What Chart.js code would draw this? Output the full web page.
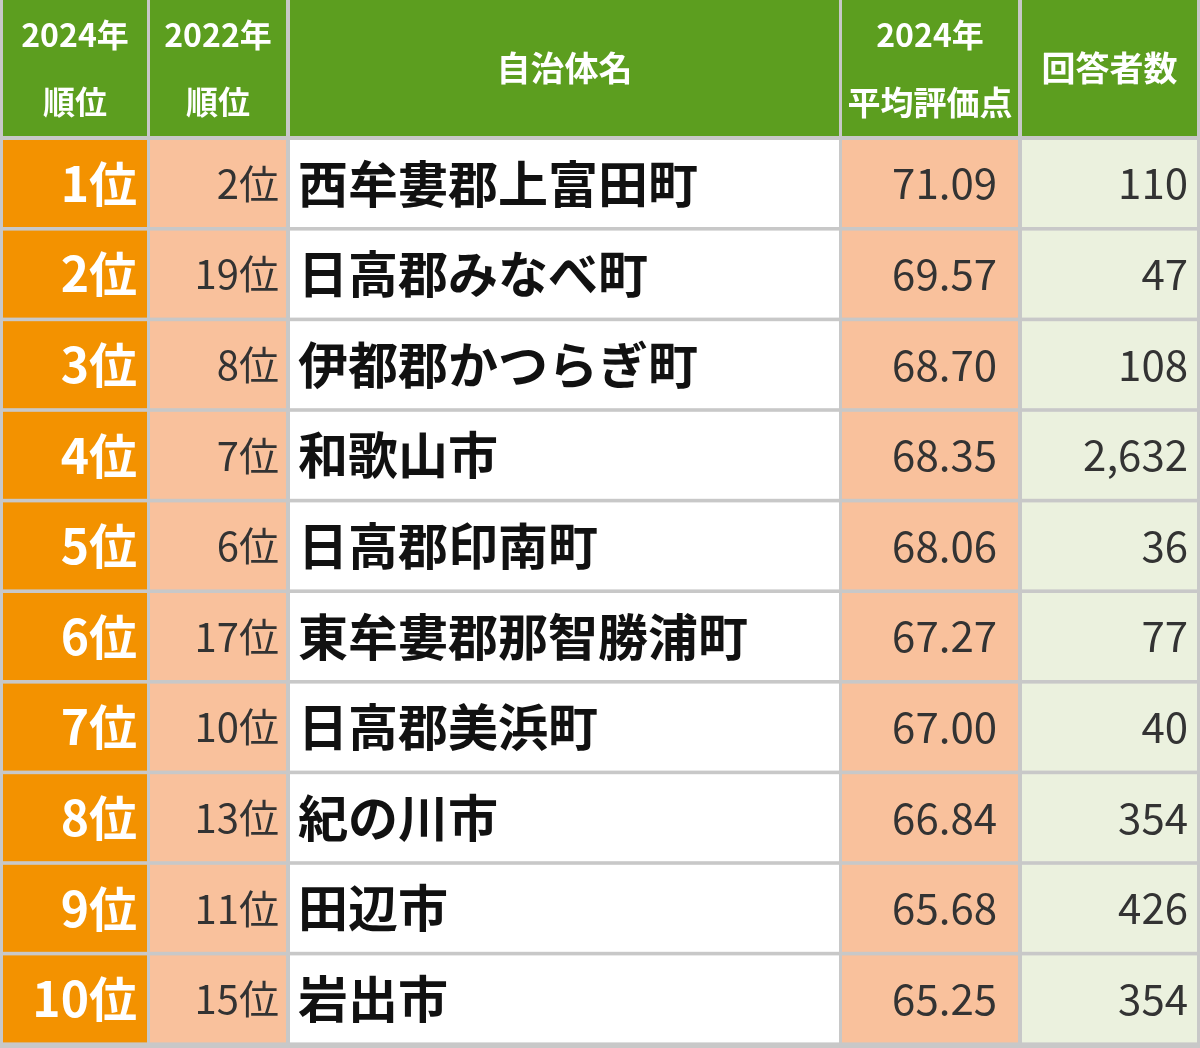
<!DOCTYPE html>
<html><head><meta charset="utf-8">
<script src="https://cdn.jsdelivr.net/npm/chart.js@4"></script>
<style>html,body{margin:0;padding:0;background:#fff}#w{width:1200px;height:1048px}</style>
</head><body><div id="w"><canvas id="c"></canvas></div>
<script>
const rank2024 = ["1位","2位","3位","4位","5位","6位","7位","8位","9位","10位"];
const rank2022 = ["2位","19位","8位","7位","6位","17位","10位","13位","11位","15位"];
const names = ["西牟婁郡上富田町","日高郡みなべ町","伊都郡かつらぎ町","和歌山市","日高郡印南町","東牟婁郡那智勝浦町","日高郡美浜町","紀の川市","田辺市","岩出市"];
const scores = [71.09,69.57,68.70,68.35,68.06,67.27,67.00,66.84,65.68,65.25];
const counts = [110,47,108,2632,36,77,40,354,426,354];
const headers = [["2024年","順位"],["2022年","順位"],["自治体名"],["2024年","平均評価点"],["回答者数"]];

const F = '"Noto Sans CJK JP","Noto Sans",sans-serif';
const cols = [[3,147],[150,286],[290,839],[842,1018],[1022,1197]];
const colFill = ["#f39200","#f9c19c","#ffffff","#f9c19c","#ebf1de"];
const headTop=0, headBot=136, rowTop=140, pitch=90.6, rowH=87;

const tablePlugin = {
  id:'table',
  beforeDatasetsDraw(chart){
    const ctx=chart.ctx, x=chart.scales.x, y=chart.scales.y;
    const X=v=>x.getPixelForValue(v), Y=v=>y.getPixelForValue(v);
    ctx.save();
    ctx.fillStyle="#c8c8c8"; ctx.fillRect(X(0),Y(0),X(1200)-X(0),Y(1048)-Y(0));
    cols.forEach((c,j)=>{
      ctx.fillStyle="#5c9e1f"; ctx.fillRect(X(c[0]),Y(headTop),X(c[1])-X(c[0]),Y(headBot)-Y(headTop));
      ctx.fillStyle="#fff"; ctx.textAlign="center"; ctx.textBaseline="middle";
      const h=headers[j], cx=X((c[0]+c[1])/2);
      if(h.length===1){ ctx.font="bold 34px "+F; ctx.fillText(h[0],cx,Y(68)); }
      else {
        ctx.font="bold 32px "+F;
        ctx.fillText(h[0],cx,Y(35));
        ctx.font="bold "+(j===3?33:32)+"px "+F;
        ctx.fillText(h[1],cx,Y(102),j===3?176:200);
      }
    });
    for(let i=0;i<names.length;i++){
      const t=rowTop+i*pitch, m=t+rowH/2;
      cols.forEach((c,j)=>{ctx.fillStyle=colFill[j]; ctx.fillRect(X(c[0]),Y(t),X(c[1])-X(c[0]),Y(t+rowH)-Y(t));});
      ctx.textBaseline="middle";
      ctx.textAlign="right"; ctx.fillStyle="#fff"; ctx.font="bold 48px "+F; ctx.fillText(rank2024[i],X(137),Y(m));
      ctx.fillStyle="#333"; ctx.font="40px "+F; ctx.fillText(rank2022[i],X(279),Y(m));
      ctx.textAlign="left"; ctx.fillStyle="#111"; ctx.font="bold 50px "+F; ctx.fillText(names[i],X(298),Y(m));
      ctx.textAlign="right"; ctx.fillStyle="#333"; ctx.font="42px "+F;
      ctx.fillText(scores[i].toFixed(2),X(997),Y(m));
      ctx.fillText(counts[i].toLocaleString('en-US'),X(1188),Y(m));
    }
    ctx.restore();
  }
};
new Chart(document.getElementById('c'),{
  type:'scatter',
  data:{datasets:[{data:[],pointRadius:0}]},
  options:{responsive:true,maintainAspectRatio:false,animation:false,
    layout:{padding:0},
    plugins:{legend:{display:false},tooltip:{enabled:false}},
    scales:{x:{type:'linear',min:0,max:1200,display:false},
            y:{type:'linear',min:0,max:1048,reverse:true,display:false}}},
  plugins:[tablePlugin]
});
</script></body></html>
